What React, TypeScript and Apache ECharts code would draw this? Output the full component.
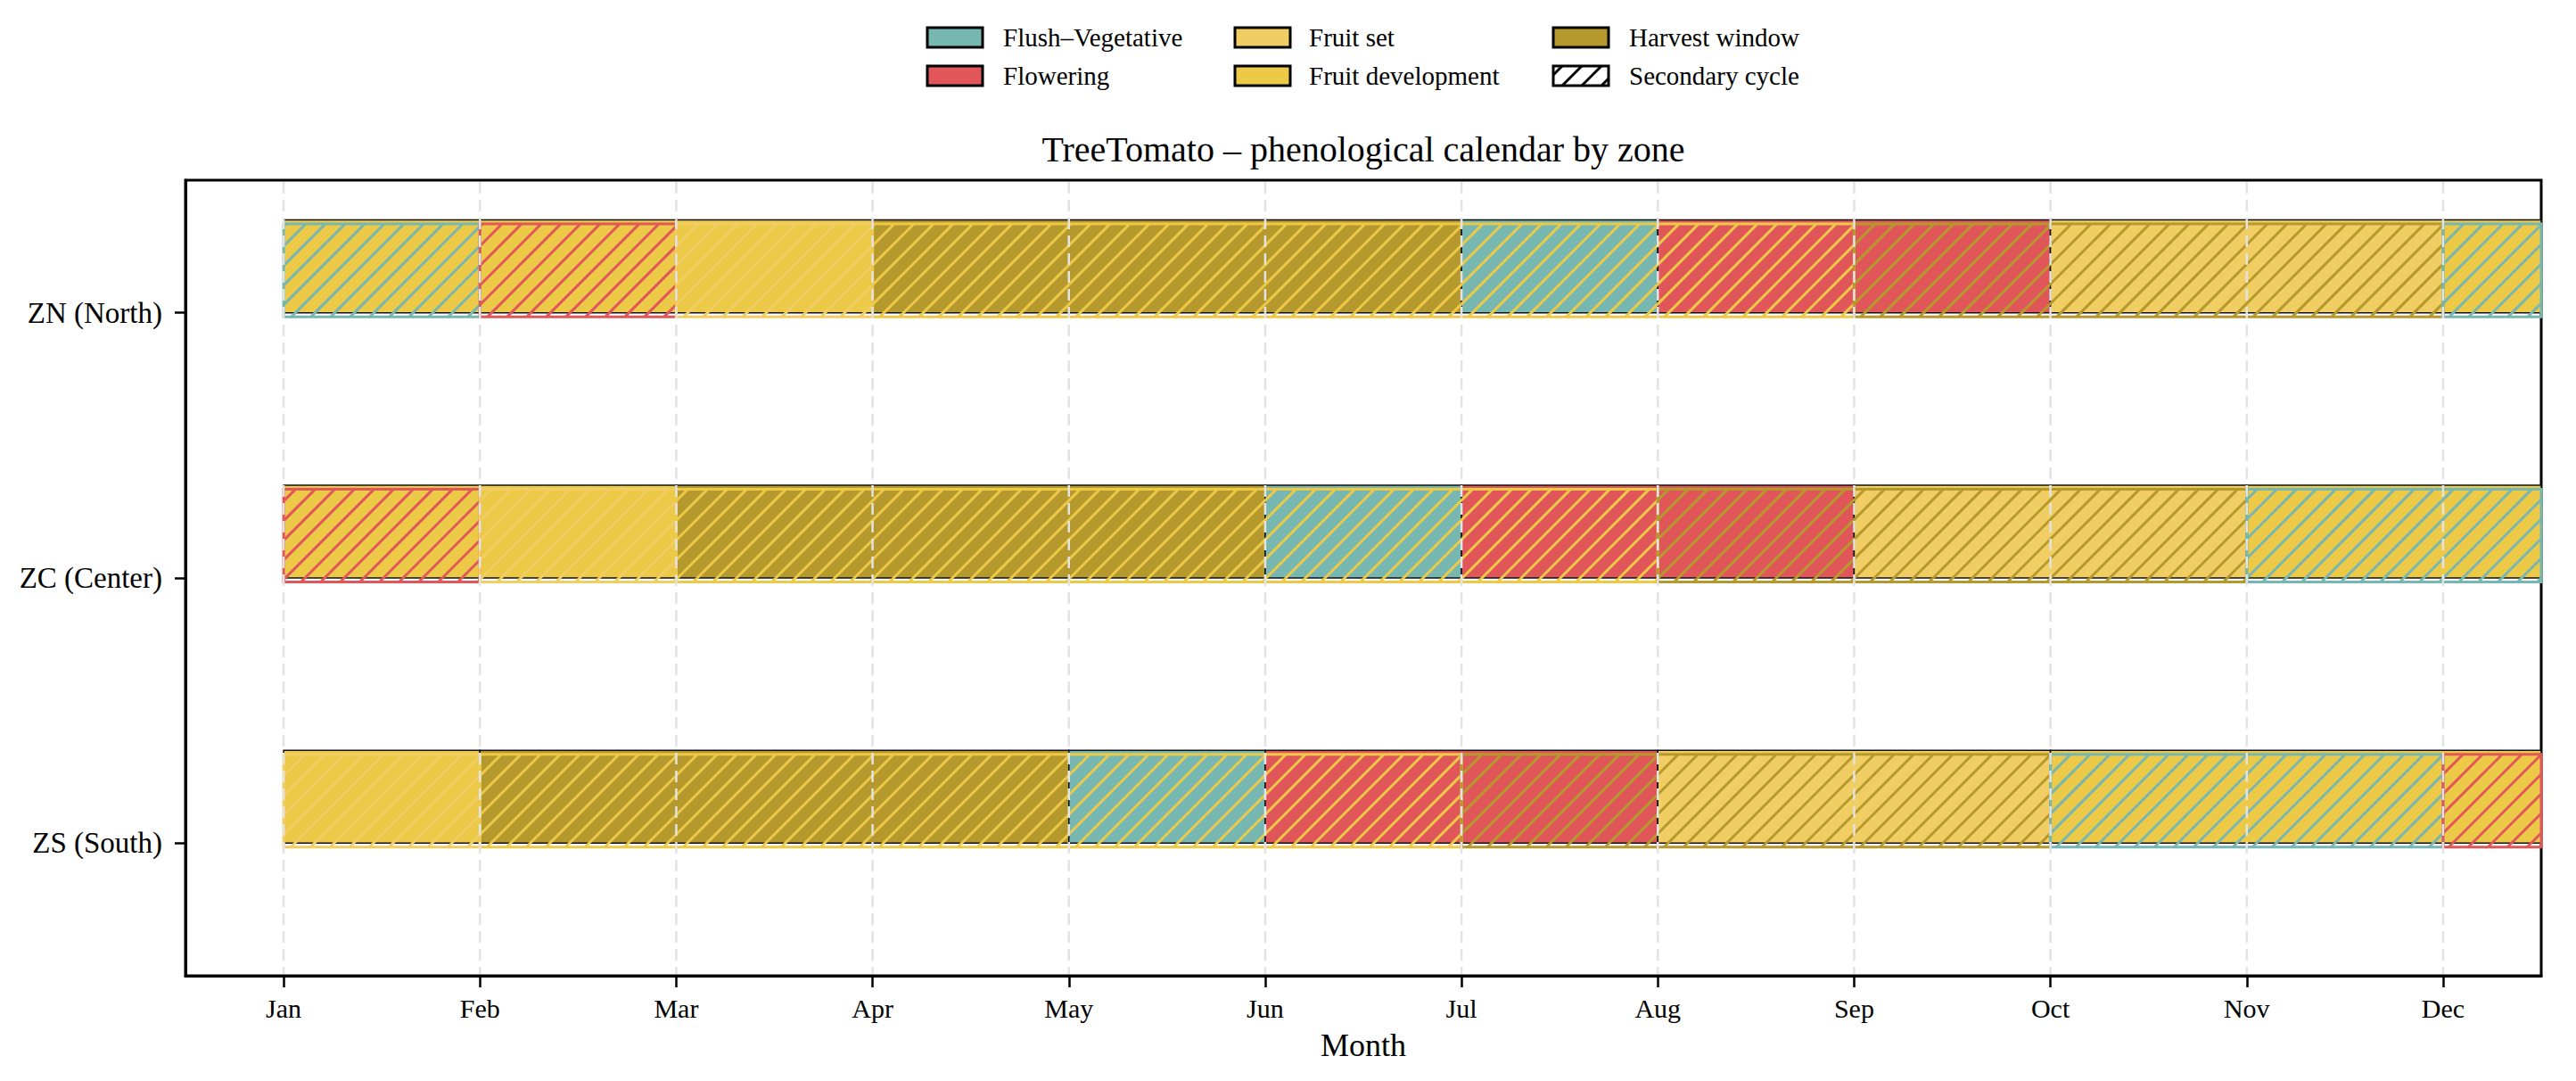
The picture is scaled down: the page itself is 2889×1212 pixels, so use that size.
import React, { useEffect, useRef } from "react";
import * as echarts from "echarts";

// ---------------- data ----------------
const months = ["Jan", "Feb", "Mar", "Apr", "May", "Jun", "Jul", "Aug", "Sep", "Oct", "Nov", "Dec"];
const monthTicks = [0, 1, 2, 3, 4, 5, 6, 7, 8, 9, 10, 11];
const zones = ["ZN (North)", "ZC (Center)", "ZS (South)"];
const phaseNames = ["Flush–Vegetative", "Flowering", "Fruit set", "Fruit development", "Harvest window"];
const secondaryLabel = "Secondary cycle";
const chartTitle = "TreeTomato – phenological calendar by zone";
const xAxisName = "Month";

// phase index: 0 Flush, 1 Flowering, 2 Fruit set, 3 Fruit development, 4 Harvest
// [zoneIndex, startMonth, endMonth (exclusive), phaseIndex]
const primarySpans = [
  [0, 0, 3, 3], [0, 3, 6, 4], [0, 6, 7, 0], [0, 7, 9, 1], [0, 9, 11, 2], [0, 11, 12, 3],
  [1, 0, 2, 3], [1, 2, 5, 4], [1, 5, 6, 0], [1, 6, 8, 1], [1, 8, 10, 2], [1, 10, 12, 3],
  [2, 0, 1, 3], [2, 1, 4, 4], [2, 4, 5, 0], [2, 5, 7, 1], [2, 7, 9, 2], [2, 9, 12, 3],
];
const secondarySpans = [
  [0, 0, 1, 0], [0, 1, 2, 1], [0, 2, 3, 2], [0, 3, 8, 3], [0, 8, 11, 4], [0, 11, 12, 0],
  [1, 0, 1, 1], [1, 1, 2, 2], [1, 2, 7, 3], [1, 7, 10, 4], [1, 10, 12, 0],
  [2, 0, 1, 2], [2, 1, 6, 3], [2, 6, 9, 4], [2, 9, 11, 0], [2, 11, 12, 1],
];

// ---------------- styles ----------------
const phaseColors = ["#76B7B2", "#E15759", "#F1CE63", "#EDC948", "#B6992D"];
const FONT = '"Liberation Serif", "Times New Roman", serif';
const HATCH_STEP = 22;
const HATCH_W = 3;

function hatchLines(x0: number, y0: number, x1: number, y1: number, color: string, width: number) {
  const out: any[] = [];
  const kStart = Math.ceil((x0 + y0) / HATCH_STEP) * HATCH_STEP;
  for (let k = kStart; k <= x1 + y1; k += HATCH_STEP) {
    const xa = Math.max(x0, k - y1);
    const xb = Math.min(x1, k - y0);
    if (xb - xa < 0.5) continue;
    out.push({
      type: "line",
      shape: { x1: xa, y1: k - xa, x2: xb, y2: k - xb },
      style: { stroke: color, lineWidth: width, lineCap: "butt" },
      silent: true,
    });
  }
  return out;
}

function spanRect(params: any, api: any, offsetFrac: number) {
  const zi = api.value(0);
  const s = api.value(1);
  const e = api.value(2);
  const cs = params.coordSys;
  const a = api.coord([s, zi]);
  const b = api.coord([e, zi]);
  const band = api.size([0, 1])[1];
  const x0 = Math.max(a[0], cs.x);
  const x1 = Math.min(b[0], cs.x + cs.width);
  const yBottom = a[1] + offsetFrac * band;
  const yTop = a[1] - 0.35 * band + offsetFrac * band;
  return { x0, x1, yTop, yBottom };
}

export default function App() {
  const ref = useRef<HTMLDivElement>(null);

  useEffect(() => {
    document.body.style.margin = "0";
    if (!ref.current) return;
    const chart = echarts.init(ref.current, undefined, { renderer: "svg" });

    // legend graphic
    const legendCols = [
      { px: 1040, tx: 1125 },
      { px: 1385, tx: 1468 },
      { px: 1742, tx: 1827 },
    ];
    const legendRows = [42, 85];
    const legendItems = [
      { name: phaseNames[0], color: phaseColors[0], col: 0, row: 0 },
      { name: phaseNames[1], color: phaseColors[1], col: 0, row: 1 },
      { name: phaseNames[2], color: phaseColors[2], col: 1, row: 0 },
      { name: phaseNames[3], color: phaseColors[3], col: 1, row: 1 },
      { name: phaseNames[4], color: phaseColors[4], col: 2, row: 0 },
      { name: secondaryLabel, color: "#ffffff", col: 2, row: 1, hatch: true },
    ];
    const legendEls: any[] = [];
    legendItems.forEach((it: any) => {
      const c = legendCols[it.col];
      const cy = legendRows[it.row];
      const px = c.px, py = cy - 11, pw = 62, ph = 22;
      legendEls.push({
        type: "rect",
        shape: { x: px, y: py, width: pw, height: ph },
        style: { fill: it.color, stroke: "none" },
      });
      if (it.hatch) {
        hatchLines(px, py, px + pw, py + ph, "#000", 3).forEach((l) => legendEls.push(l));
      }
      legendEls.push({
        type: "rect",
        shape: { x: px, y: py, width: pw, height: ph },
        style: { fill: "none", stroke: "#000", lineWidth: 3 },
      });
      legendEls.push({
        type: "text",
        x: c.tx,
        y: cy,
        style: {
          text: it.name,
          font: `29px ${FONT}`,
          fill: "#000",
          align: "left",
          verticalAlign: "middle",
          textAlign: "left",
          textVerticalAlign: "middle",
        },
      });
    });

    const option: any = {
      animation: false,
      backgroundColor: "#ffffff",
      grid: {
        left: 208,
        right: 39,
        top: 202,
        bottom: 118,
        show: true,
        borderColor: "#000",
        borderWidth: 3,
        backgroundColor: "transparent",
      },
      graphic: [
        {
          type: "text",
          x: 1529,
          y: 167,
          style: {
            text: chartTitle,
            font: `40px ${FONT}`,
            fill: "#000",
            align: "center",
            verticalAlign: "middle",
            textAlign: "center",
            textVerticalAlign: "middle",
          },
        },
        ...legendEls,
      ],
      xAxis: {
        type: "value",
        min: -0.5,
        max: 11.5,
        name: xAxisName,
        nameLocation: "middle",
        nameGap: 60,
        nameTextStyle: { fontSize: 36, fontFamily: FONT, color: "#000" },
        axisLine: { show: true, onZero: false, lineStyle: { color: "#000", width: 3 } },
        axisTick: {
          show: true,
          customValues: monthTicks,
          length: 13,
          lineStyle: { color: "#000", width: 2.5 },
        },
        axisLabel: {
          customValues: monthTicks,
          formatter: (v: number) => months[Math.round(v)] ?? "",
          fontSize: 30,
          fontFamily: FONT,
          color: "#000",
          margin: 21,
        },
        splitLine: { show: false },
      },
      yAxis: {
        type: "category",
        data: zones,
        inverse: true,
        axisLine: { show: true, onZero: false, lineStyle: { color: "#000", width: 3 } },
        axisTick: {
          show: true,
          alignWithLabel: true,
          length: 12,
          lineStyle: { color: "#000", width: 2.5 },
        },
        axisLabel: { fontSize: 33, fontFamily: FONT, color: "#000", margin: 26 },
        splitLine: { show: false },
      },
      series: [
        {
          type: "custom",
          name: "primary",
          z: 2,
          encode: { x: [1, 2], y: 0 },
          data: primarySpans,
          renderItem: (params: any, api: any) => {
            const r = spanRect(params, api, 0);
            const ph = api.value(3);
            return {
              type: "rect",
              shape: { x: r.x0, y: r.yTop, width: r.x1 - r.x0, height: r.yBottom - r.yTop },
              style: { fill: phaseColors[ph], stroke: "#111", lineWidth: 1.5 },
            };
          },
        },
        {
          type: "custom",
          name: "secondary",
          z: 3,
          encode: { x: [1, 2], y: 0 },
          data: secondarySpans,
          renderItem: (params: any, api: any) => {
            const r = spanRect(params, api, 0.015);
            const ph = api.value(3);
            const col = phaseColors[ph];
            const children: any[] = hatchLines(r.x0, r.yTop, r.x1, r.yBottom, col, HATCH_W);
            children.push({
              type: "rect",
              shape: { x: r.x0, y: r.yTop, width: r.x1 - r.x0, height: r.yBottom - r.yTop },
              style: { fill: "none", stroke: col, lineWidth: 3 },
            });
            return { type: "group", children };
          },
        },
        {
          type: "custom",
          name: "gridlines",
          z: 4,
          silent: true,
          encode: { x: 0, y: 1 },
          data: monthTicks.map((m) => [m, 0]),
          renderItem: (params: any, api: any) => {
            const cs = params.coordSys;
            const p = api.coord([api.value(0), 0]);
            return {
              type: "line",
              shape: { x1: p[0], y1: cs.y + 2, x2: p[0], y2: cs.y + cs.height - 2 },
              style: { stroke: "#e3e3e3", lineWidth: 2.5, lineDash: [13, 7] },
            };
          },
        },
      ],
    };

    chart.setOption(option);
    return () => chart.dispose();
  }, []);

  return <div ref={ref} style={{ width: 2889, height: 1212, overflow: "hidden" }} />;
}
